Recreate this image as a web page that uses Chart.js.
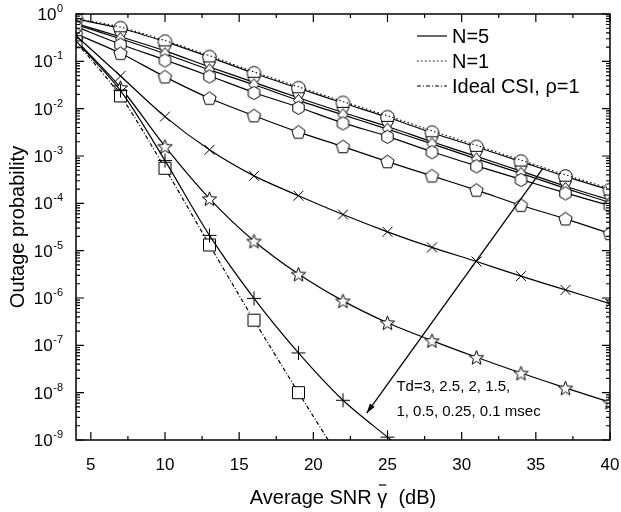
<!DOCTYPE html>
<html>
<head>
<meta charset="utf-8">
<script src="https://cdn.jsdelivr.net/npm/chart.js@4.4.1/dist/chart.umd.min.js"></script>
<style>
  html, body { margin: 0; padding: 0; background: #fff; }
  #wrap { width: 621px; height: 512px; }
</style>
</head>
<body>
<div id="wrap"><canvas id="outageChart" width="621" height="512"></canvas></div>
<script>
// SNR points (dB) where markers sit
const snr = [4, 7, 10, 13, 16, 19, 22, 25, 28, 31, 34, 37, 40];
const xTicks = [5, 10, 15, 20, 25, 30, 35, 40];

// N=5 curves, Td = 3 ... 0.1 msec
const td3   = [0.78, 0.50, 0.26, 0.123, 0.056, 0.027, 0.0132, 0.0066, 0.0031, 0.00155, 7.6e-4, 3.7e-4, 1.9e-4];
const td25  = [0.63, 0.33, 0.166, 0.076, 0.036, 0.017, 0.0083, 0.0042, 0.0020, 9.8e-4, 4.8e-4, 2.3e-4, 1.17e-4];
const td2   = [0.60, 0.30, 0.145, 0.066, 0.032, 0.015, 0.0074, 0.0037, 0.0018, 8.7e-4, 4.3e-4, 2.07e-4, 1.04e-4];
const td15  = [0.54, 0.23, 0.107, 0.049, 0.022, 0.0107, 0.0050, 0.0026, 0.00123, 6.2e-4, 3.2e-4, 1.66e-4, 8.9e-5];
const td1   = [0.38, 0.148, 0.047, 0.0166, 0.0071, 0.0032, 0.00158, 7.6e-4, 3.8e-4, 1.9e-4, 9.1e-5, 4.7e-5, 2.3e-5];
const td05  = [0.35, 0.049, 0.0068, 0.00135, 3.8e-4, 1.45e-4, 5.8e-5, 2.5e-5, 1.17e-5, 5.9e-6, 2.9e-6, 1.48e-6, 7.6e-7];
const td025 = [0.28, 0.028, 0.0016, 1.26e-4, 1.6e-5, 3.2e-6, 8.7e-7, 3.0e-7, 1.26e-7, 5.6e-8, 2.6e-8, 1.26e-8, 6.3e-9];
const td01  = [0.27, 0.024, 8.0e-4, 2.1e-5, 9.8e-7, 6.9e-8, 6.9e-9, 1.15e-9, 2.0e-10];

// N=1 (dotted), visible just above the Td=3 curve
const n1td3 = [0.80, 0.53, 0.275, 0.132, 0.060, 0.029, 0.0142, 0.0071, 0.0034, 0.00168, 8.2e-4, 4.0e-4, 2.05e-4];

// Ideal CSI, rho=1
const ideal = [0.26, 0.0186, 5.5e-4, 1.32e-5, 3.4e-7, 1.0e-8, 3.2e-10];

// little marker images for shapes Chart.js doesn't have
function makeMarker(kind) {
    const s = 17, c = document.createElement("canvas");
    c.width = s; c.height = s;
    const g = c.getContext("2d");
    const cx = s / 2, cy = s / 2;
    g.beginPath();
    if (kind === "pentagon" || kind === "hexagon" || kind === "tridown") {
        const n = kind === "pentagon" ? 5 : kind === "hexagon" ? 6 : 3;
        const r = kind === "hexagon" ? 6.6 : kind === "pentagon" ? 7 : 7.2;
        const start = kind === "tridown" ? Math.PI / 2 : -Math.PI / 2;
        const oy = kind === "tridown" ? -1.5 : 0.5;
        for (let i = 0; i < n; i++) {
            const a = start + i * 2 * Math.PI / n;
            g.lineTo(cx + r * Math.cos(a), cy + oy + r * Math.sin(a));
        }
    } else if (kind === "diamond") {
        g.moveTo(cx, cy - 6); g.lineTo(cx + 5, cy); g.lineTo(cx, cy + 6); g.lineTo(cx - 5, cy);
    } else if (kind === "star") {
        for (let i = 0; i < 10; i++) {
            const a = -Math.PI / 2 + i * Math.PI / 5;
            const r = i % 2 === 0 ? 7.5 : 3.2;
            g.lineTo(cx + r * Math.cos(a), cy + 0.8 + r * Math.sin(a));
        }
    } else if (kind === "circle") {
        g.arc(cx, cy, 6.8, 0, 2 * Math.PI);
    } else if (kind === "square") {
        g.rect(cx - 6, cy - 6, 12, 12);
    }
    g.closePath();
    g.fillStyle = "#fff";
    g.fill();
    g.lineWidth = 1;
    g.strokeStyle = "#000";
    g.stroke();
    return c;
}

function series(values, marker, dash, width) {
    return {
        data: values.map((v, i) => ({ x: snr[i], y: v })),
        borderColor: "#000",
        borderWidth: width || 1.2,
        borderDash: dash || [],
        pointStyle: marker || false,
        pointRadius: marker ? 7 : 0,
        pointBorderColor: "#000",
        pointBackgroundColor: "#fff",
        pointBorderWidth: 1,
        tension: 0.3,
        fill: false
    };
}

const datasets = [
    series(n1td3, null, [1.5, 2.5], 1.1),
    series(td01, "cross"),
    series(td05, "crossRot"),
    series(ideal, makeMarker("square"), [4, 2, 1, 2]),
    series(td025, makeMarker("star")),
    series(td1, makeMarker("pentagon")),
    series(td15, makeMarker("hexagon")),
    series(td2, makeMarker("diamond")),
    series(td25, makeMarker("tridown")),
    series(td3, makeMarker("circle"))
];

const FONT = "'Liberation Sans', Arial, sans-serif";

// frame, inward ticks, y labels, x title, legend and the Td arrow
const decorPlugin = {
    id: "decor",
    afterDraw(chart) {
        const ctx = chart.ctx, a = chart.chartArea;
        const xs = chart.scales.x, ys = chart.scales.y;
        ctx.save();
        ctx.strokeStyle = "#000";
        ctx.fillStyle = "#000";
        ctx.lineWidth = 1.5;
        ctx.strokeRect(a.left, a.top, a.right - a.left, a.bottom - a.top);

        ctx.lineWidth = 1.2;
        ctx.beginPath();
        for (let v = 5; v <= 40; v += 2.5) {
            const px = xs.getPixelForValue(v);
            const len = v % 5 === 0 ? 8 : 4;
            ctx.moveTo(px, a.bottom); ctx.lineTo(px, a.bottom - len);
            ctx.moveTo(px, a.top); ctx.lineTo(px, a.top + len);
        }
        for (let e = -9; e <= 0; e++) {
            for (let m = 1; m <= 9; m++) {
                if (e === 0 && m > 1) break;
                const py = ys.getPixelForValue(m * Math.pow(10, e));
                const len = m === 1 ? 8 : 4;
                ctx.moveTo(a.left, py); ctx.lineTo(a.left + len, py);
                ctx.moveTo(a.right, py); ctx.lineTo(a.right - len, py);
            }
        }
        ctx.stroke();

        // y tick labels 10^n
        ctx.textBaseline = "alphabetic";
        for (let e = -9; e <= 0; e++) {
            const py = ys.getPixelForValue(Math.pow(10, e));
            const exp = e === 0 ? "0" : "-" + (-e);
            ctx.font = "11px " + FONT;
            const ew = ctx.measureText(exp).width;
            const right = a.left - 13;
            ctx.textAlign = "right";
            ctx.fillText(exp, right, py - 2);
            ctx.font = "17px " + FONT;
            ctx.fillText("10", right - ew - 0.5, py + 6);
        }

        // x axis title with a bar over gamma
        ctx.font = "20px " + FONT;
        ctx.textAlign = "left";
        ctx.textBaseline = "alphabetic";
        const p1 = "Average SNR ", p2 = "\u03B3", p3 = "  (dB)";
        const w1 = ctx.measureText(p1).width, w2 = ctx.measureText(p2).width, w3 = ctx.measureText(p3).width;
        const tx0 = (a.left + a.right) / 2 - (w1 + w2 + w3) / 2;
        const ty = 504;
        ctx.fillText(p1, tx0, ty);
        ctx.fillText(p2, tx0 + w1, ty);
        ctx.fillText(p3, tx0 + w1 + w2, ty);
        ctx.lineWidth = 1.2;
        ctx.beginPath();
        ctx.moveTo(tx0 + w1 + 1.5, ty - 19); ctx.lineTo(tx0 + w1 + w2 - 1, ty - 19);
        ctx.stroke();

        // legend
        const rows = [
            { label: "N=5", dash: [] },
            { label: "N=1", dash: [1.5, 2.5] },
            { label: "Ideal CSI, \u03C1=1", dash: [4, 2, 1, 2] }
        ];
        const ly = [36, 61, 86];
        ctx.font = "20px " + FONT;
        ctx.textBaseline = "middle";
        rows.forEach((r, i) => {
            ctx.beginPath();
            ctx.setLineDash(r.dash);
            ctx.lineWidth = 1.2;
            ctx.moveTo(417, ly[i]); ctx.lineTo(447, ly[i]);
            ctx.stroke();
            ctx.setLineDash([]);
            ctx.fillText(r.label, 452, ly[i] + 1);
        });

        // arrow across the Td curves
        const x0 = xs.getPixelForValue(35.5), y0 = ys.getPixelForValue(Math.pow(10, -3.25));
        const x1 = xs.getPixelForValue(23.6), y1 = ys.getPixelForValue(Math.pow(10, -8.43));
        ctx.lineWidth = 1.3;
        ctx.beginPath();
        ctx.moveTo(x0, y0); ctx.lineTo(x1, y1);
        ctx.stroke();
        const ang = Math.atan2(y1 - y0, x1 - x0);
        ctx.beginPath();
        ctx.moveTo(x1, y1);
        ctx.lineTo(x1 - 10 * Math.cos(ang - 0.3), y1 - 10 * Math.sin(ang - 0.3));
        ctx.lineTo(x1 - 10 * Math.cos(ang + 0.3), y1 - 10 * Math.sin(ang + 0.3));
        ctx.closePath();
        ctx.fill();

        ctx.font = "15px " + FONT;
        ctx.textAlign = "left";
        ctx.textBaseline = "middle";
        const tx = xs.getPixelForValue(25.6);
        ctx.fillText("Td=3, 2.5, 2, 1.5,", tx, ys.getPixelForValue(Math.pow(10, -7.87)));
        ctx.fillText("1, 0.5, 0.25, 0.1 msec", tx, ys.getPixelForValue(Math.pow(10, -8.4)));
        ctx.restore();
    }
};

new Chart(document.getElementById("outageChart"), {
    type: "line",
    data: { datasets: datasets },
    options: {
        responsive: false,
        animation: false,
        events: [],
        layout: { padding: { top: 14, right: 11, left: 0, bottom: 0 } },
        plugins: { legend: { display: false }, tooltip: { enabled: false } },
        scales: {
            x: {
                type: "linear",
                min: 4,
                max: 40,
                afterBuildTicks: s => { s.ticks = xTicks.map(v => ({ value: v })); },
                afterFit: s => { s.height = 72; s.paddingLeft = 0; s.paddingRight = 0; },
                grid: { display: false, drawTicks: false },
                border: { display: false },
                ticks: { color: "#000", padding: 15, maxRotation: 0, font: { family: FONT, size: 17 } },
                title: { display: false }
            },
            y: {
                type: "logarithmic",
                min: 1e-9,
                max: 1,
                afterFit: s => { s.width = 76; s.paddingTop = 0; s.paddingBottom = 0; },
                grid: { display: false, drawTicks: false },
                border: { display: false },
                ticks: { display: false },
                title: {
                    display: true,
                    text: "Outage probability",
                    color: "#000",
                    font: { family: FONT, size: 20 },
                    padding: { top: 6, bottom: 0 }
                }
            }
        }
    },
    plugins: [decorPlugin]
});
</script>
</body>
</html>
